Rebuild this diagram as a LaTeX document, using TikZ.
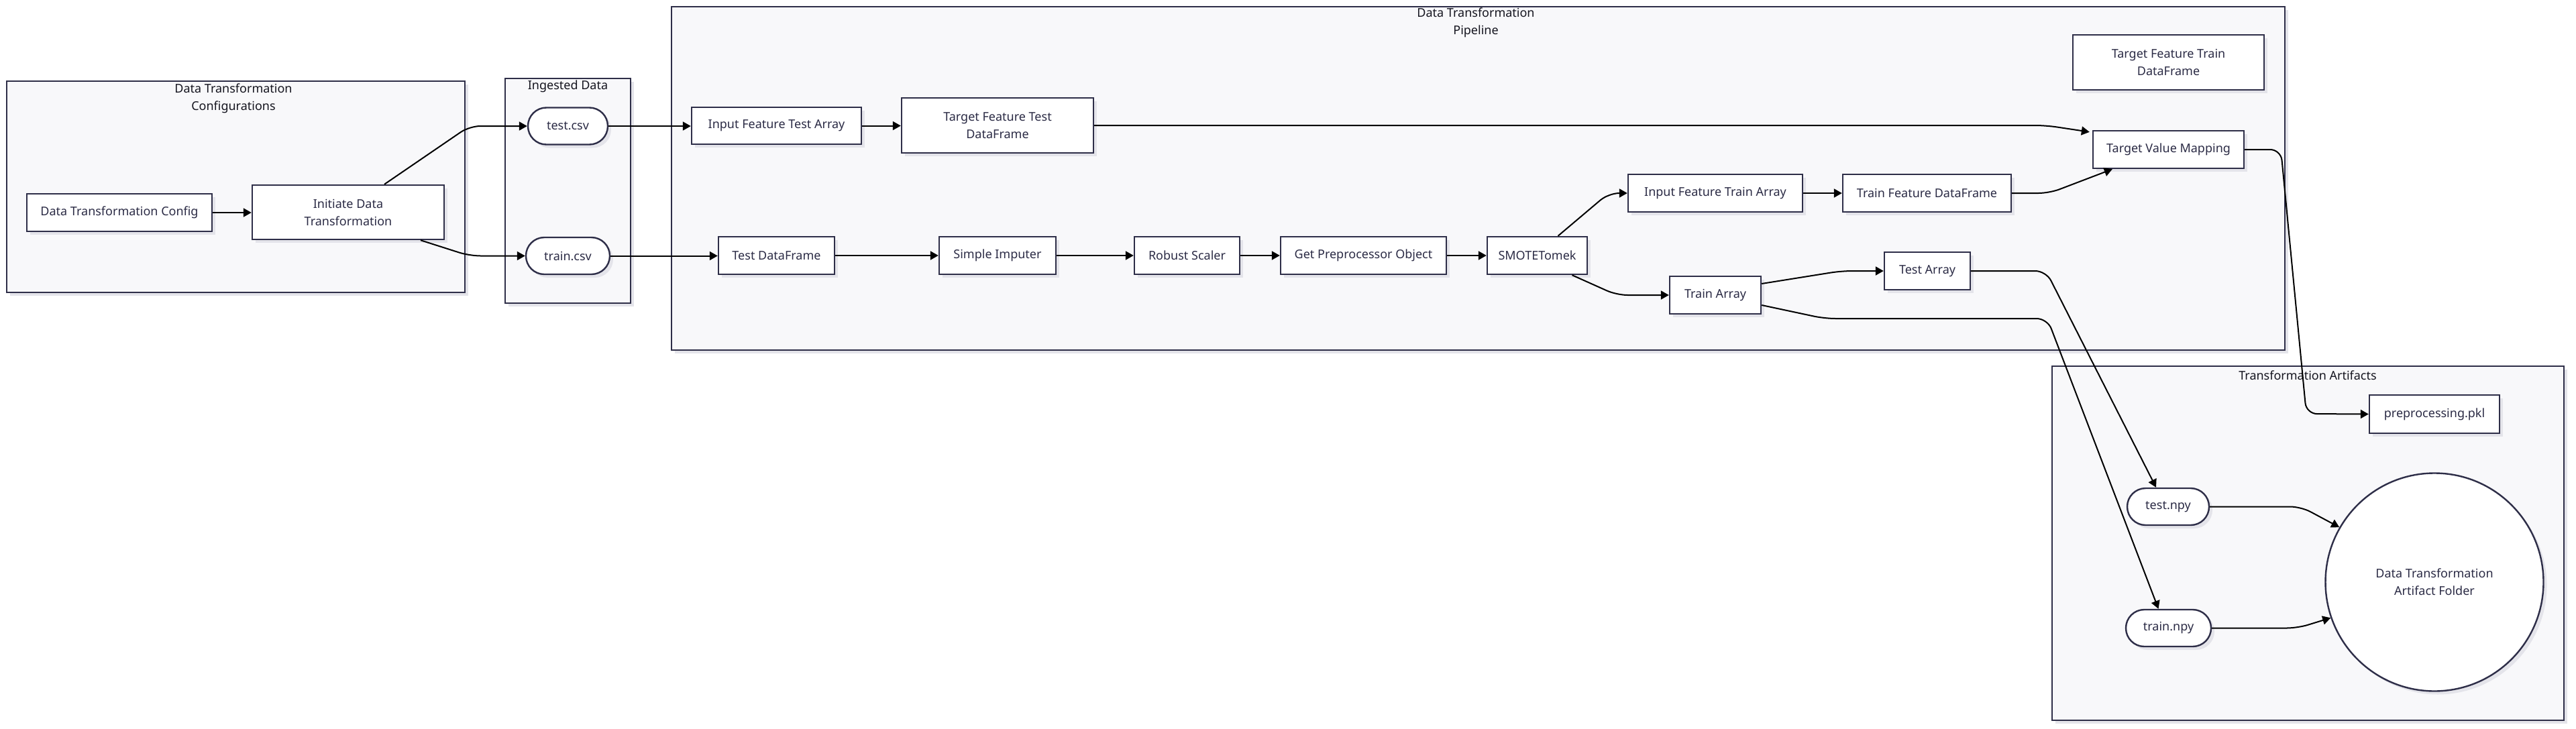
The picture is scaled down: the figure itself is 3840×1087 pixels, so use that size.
\documentclass[tikz,border=0pt]{standalone}
\usepackage{fontspec}
\setmainfont{Noto Sans}
\usetikzlibrary{arrows.meta,shadows,calc,fit}
\definecolor{clfill}{HTML}{F8F8FA}
\definecolor{linec}{HTML}{2E2E48}
\definecolor{txtc}{HTML}{2B2B45}
\definecolor{ttlc}{HTML}{15151F}
\definecolor{shadc}{HTML}{E4E4EA}
\begin{document}
\begin{tikzpicture}[x=0.5pt,y=-0.5pt,
  font=\fontsize{9}{13}\selectfont,
  shad/.style={drop shadow={shadow xshift=2.5pt, shadow yshift=-2.5pt, fill=shadc, opacity=1}},
  nbox/.style={draw=linec, line width=1.2pt, fill=white, text=txtc, inner sep=0pt, align=center, shad},
  stad/.style={nbox, rounded corners=13.7pt},
  cluster/.style={draw=linec, line width=1.2pt, fill=clfill, inner sep=0pt, shad},
  ctitle/.style={text=ttlc, align=center, inner sep=0pt},
  edge/.style={line width=1pt, black, rounded corners=8pt, -{Triangle[length=6pt,width=6.5pt]}},
]
\fill[white] (0,0) rectangle (3840,1087);
\useasboundingbox (0,0) rectangle (3840,1087);

% clusters
\node[cluster, fit={(10,121) (693,436)}] (cfg) {};
\node[ctitle] (cfgt) at (348,147) {Data Transformation\\Configurations};
\node[cluster, fit={(753,117) (940,452)}] (ing) {};
\node[ctitle] (ingt) at (846.5,129) {Ingested Data};
\node[cluster, fit={(1001,10) (3406,522)}] (pipe) {};
\node[ctitle] (pipet) at (2200,34) {Data Transformation\\Pipeline};
\node[cluster, fit={(3059,546) (3822,1074)}] (art) {};
\node[ctitle] (artt) at (3440,560) {Transformation Artifacts};

% nodes
\node[nbox, minimum width=138pt, minimum height=28pt] (dtc) at (178,317) {Data Transformation Config};
\node[nbox, minimum width=143pt, minimum height=40.5pt] (init) at (519,316.5) {Initiate Data\\Transformation};
\node[stad, minimum width=59.5pt, minimum height=27.5pt] (testcsv) at (846.5,188) {test.csv};
\node[stad, minimum width=62.5pt, minimum height=27.5pt] (traincsv) at (846.5,381.5) {train.csv};
\node[nbox, minimum width=126.5pt, minimum height=27.5pt] (ifta) at (1157.5,187.5) {Input Feature Test Array};
\node[nbox, minimum width=143pt, minimum height=41pt] (tftd) at (1487,187) {Target Feature Test\\DataFrame};
\node[nbox, minimum width=86.5pt, minimum height=28pt] (tdf) at (1157.5,381) {Test DataFrame};
\node[nbox, minimum width=87pt, minimum height=28pt] (si) at (1487,381) {Simple Imputer};
\node[nbox, minimum width=78.5pt, minimum height=28pt] (rs) at (1769.5,381) {Robust Scaler};
\node[nbox, minimum width=123.5pt, minimum height=28pt] (gpo) at (2032.5,381) {Get Preprocessor Object};
\node[nbox, minimum width=74.5pt, minimum height=28pt] (smote) at (2291.5,381) {SMOTETomek};
\node[nbox, minimum width=130pt, minimum height=28pt] (iftra) at (2557,288) {Input Feature Train Array};
\node[nbox, minimum width=125.5pt, minimum height=28pt] (tfdf) at (2872.5,288) {Train Feature DataFrame};
\node[nbox, minimum width=112.5pt, minimum height=28pt] (tvm) at (3232.5,223) {Target Value Mapping};
\node[nbox, minimum width=142.5pt, minimum height=41pt] (tftrd) at (3232.5,93) {Target Feature Train\\DataFrame};
\node[nbox, minimum width=64pt, minimum height=28pt] (testarr) at (2873,404) {Test Array};
\node[nbox, minimum width=68pt, minimum height=28pt] (trainarr) at (2557,440) {Train Array};
\node[nbox, minimum width=97pt, minimum height=28.5pt] (pkl) at (3629,617.5) {preprocessing.pkl};
\node[stad, minimum width=61pt, minimum height=27.5pt] (testnpy) at (3232,755.5) {test.npy};
\node[stad, minimum width=63.5pt, minimum height=27.5pt] (trainnpy) at (3232.5,936.5) {train.npy};
\node[nbox, circle, minimum size=162.5pt] (folder) at (3629,868) {Data Transformation\\Artifact Folder};

% edges
\draw[edge] (dtc.east) -- (init.west |- dtc.east);
\draw[edge] ($(init.north)+(54,0)$) -- (700,188) -- (testcsv.west);
\draw[edge] ($(init.south)+(108,0)$) -- (700,381.5) -- (traincsv.west);
\draw[edge] (testcsv.east) -- (ifta.west |- testcsv.east);
\draw[edge] (traincsv.east) -- (tdf.west |- traincsv.east);
\draw[edge] (ifta.east) -- (tftd.west |- ifta.east);
\draw[edge] (tftd.east) -- (3050,187) -- ($(tvm.north west)+(-4,3)$);
\draw[edge] (tdf.east) -- (si.west);
\draw[edge] (si.east) -- (rs.west);
\draw[edge] (rs.east) -- (gpo.west);
\draw[edge] (gpo.east) -- (smote.west);
\draw[edge] ($(smote.north)+(31,0)$) -- (2398,288) -- (iftra.west);
\draw[edge] ($(smote.south)+(52,0)$) -- (2410,440) -- (trainarr.west);
\draw[edge] (iftra.east) -- (tfdf.west);
\draw[edge] (tfdf.east) -- (3055,288) -- ($(tvm.south west)+(30,0)$);
\draw[edge] ($(trainarr.east)+(0,-17)$) -- (2745,404) -- (testarr.west);
\draw[edge] ($(trainarr.east)+(0,15)$) -- (2720,475) -- (3052,475) -- ($(trainnpy.north)+(-15,0)$);
\draw[edge] (testarr.east) -- (3050,404) -- ($(testnpy.north)+(-18,0)$);
\draw[edge] (tvm.east) -- (3400,223) -- (3438,617) -- (pkl.west);
\draw[edge] (testnpy.east) -- (3430,755.5) -- (folder.150);
\draw[edge] (trainnpy.east) -- (3425,936.5) -- (folder.199);
\end{tikzpicture}
\end{document}
